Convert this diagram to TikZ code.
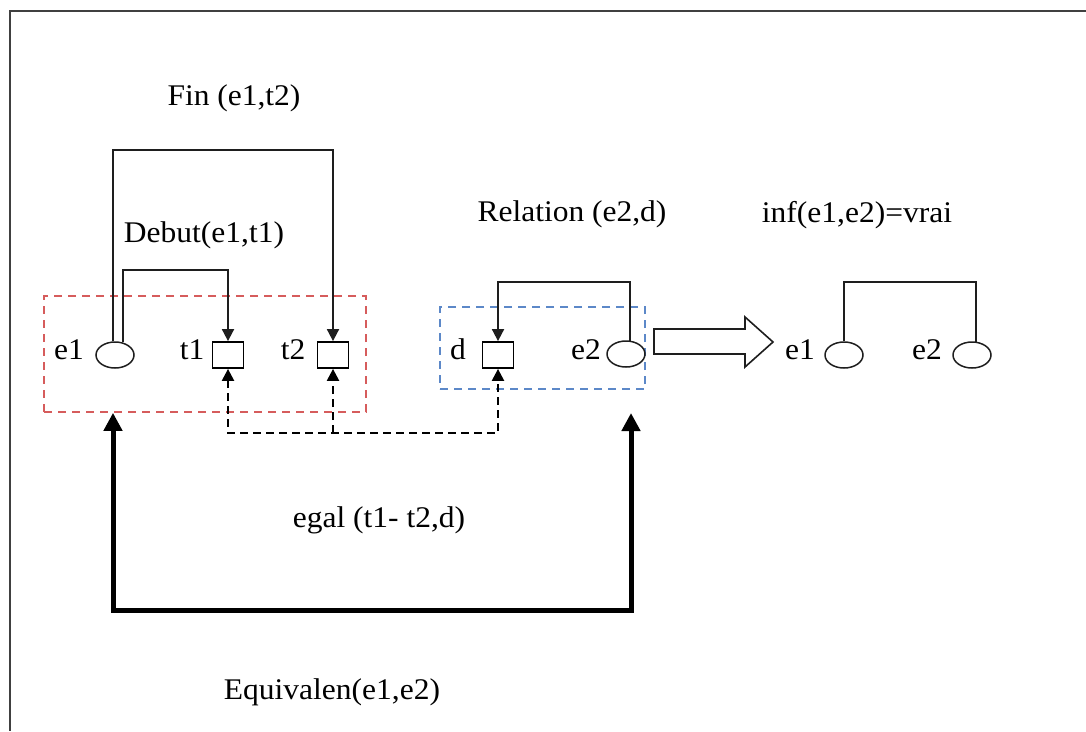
\documentclass[tikz,border=0pt]{standalone}
\usepackage{fontspec}
\setmainfont[FakeStretch=1.05]{Liberation Serif}
\usetikzlibrary{arrows.meta,shapes.geometric}
\definecolor{framec}{RGB}{64,64,64}
\definecolor{linec}{RGB}{30,30,30}
\definecolor{redd}{RGB}{214,92,92}
\definecolor{blued}{RGB}{92,136,200}
\tikzset{
  txt/.style={font=\fontsize{30}{34}\selectfont, inner sep=0pt, anchor=base},
  ent/.style={draw=linec, line width=1.5pt, ellipse, minimum width=38pt, minimum height=26pt, inner sep=0pt},
  attr/.style={draw=black, line width=1.8pt, rectangle, minimum width=31pt, minimum height=26pt, inner sep=0pt},
  conn/.style={draw=linec, line width=1.8pt, -{Triangle[width=12pt,length=12pt]}},
  plain/.style={draw=linec, line width=1.8pt},
  dconn/.style={draw=black, line width=2.3pt, dash pattern=on 8pt off 5pt},
  thickarr/.style={draw=black, line width=5pt, {Triangle[width=18pt,length=18pt]}-{Triangle[width=18pt,length=18pt]}},
  redbox/.style={draw=redd, line width=1.7pt, dash pattern=on 8pt off 6pt, rectangle, inner sep=0pt},
  bluebox/.style={draw=blued, line width=1.7pt, dash pattern=on 8pt off 6pt, rectangle, inner sep=0pt},
}
\begin{document}
\begin{tikzpicture}[x=1pt,y=-1pt]
\useasboundingbox (0,0) rectangle (1086,731);
% frame
\draw[framec, line width=2.5pt] (1086,11) -- (10,11) -- (10,731);

% group boxes
\node[redbox, minimum width=322pt, minimum height=116pt] (redg) at (205,354) {};
\node[bluebox, minimum width=205pt, minimum height=82pt] (blueg) at (542.5,348) {};

% entities and attributes
\node[ent] (e1ell) at (115,355) {};
\node[attr] (t1box) at (228,355) {};
\node[attr] (t2box) at (333,355) {};
\node[attr] (dbox) at (498,355) {};
\node[ent] (e2ell) at (626,354) {};
\node[ent] (re1ell) at (844,355) {};
\node[ent] (re2ell) at (972,355) {};

% labels
\node[txt] (le1) at (69,359) {e1};
\node[txt] (lt1) at (192,359) {t1};
\node[txt] (lt2) at (293,359) {t2};
\node[txt] (ld) at (458,359) {d};
\node[txt] (le2) at (586,359) {e2};
\node[txt] (lre1) at (800,359) {e1};
\node[txt] (lre2) at (927,359) {e2};

% titles
\node[txt] (fin) at (234,105) {Fin (e1,t2)};
\node[txt] (debut) at (204,242) {Debut(e1,t1)};
\node[txt] (rel) at (572,221) {Relation (e2,d)};
\node[txt] (inf) at (857,222) {inf(e1,e2)=vrai};
\node[txt] (egal) at (379,527) {egal (t1- t2,d)};
\node[txt] (equiv) at (332,699) {Equivalen(e1,e2)};

% corner coordinates
\coordinate (finc) at (333,150);
\coordinate (debc) at (228,270);
\coordinate (relc) at (498,282);
\coordinate (infc) at (976,282);
\coordinate (dl) at (228,433);
\coordinate (dr) at (498,433);
\coordinate (bl) at (113,610);
\coordinate (br) at (631,610);
\coordinate (rtip) at (631,413);

% Fin and Debut
\draw[conn] ([xshift=-2pt]e1ell.north) |- (finc) -- (t2box.north);
\draw[conn] ([shift={(8pt,-1.2pt)}]e1ell.north) |- (debc) -- (t1box.north);
% Relation
\draw[conn] ([shift={(4pt,-0.4pt)}]e2ell.north) |- (relc) -- (dbox.north);
% inf
\draw[plain] (re1ell.north) |- (infc) -- ([shift={(4pt,-0.4pt)}]re2ell.north);

% dashed egal
\draw[dconn, {Triangle[width=12pt,length=12pt]}-{Triangle[width=12pt,length=12pt]}] (t1box.south) -- (dl) -- (dr) -- (dbox.south);
\draw[dconn, -{Triangle[width=12pt,length=12pt]}] (t2box.south |- dl) -- (t2box.south);

% thick Equivalen
\draw[thickarr] (redg.south -| bl) -- (bl) -- (br) -- (rtip);

% hollow implication arrow
\coordinate (ha1) at (654,329);
\coordinate (ha2) at (745,329);
\coordinate (ha3) at (745,317);
\coordinate (ha4) at (773,342);
\coordinate (ha5) at (745,367);
\coordinate (ha6) at (745,354);
\coordinate (ha7) at (654,354);
\draw[linec, line width=1.6pt, line join=miter] (ha1) -- (ha2) -- (ha3) -- (ha4) -- (ha5) -- (ha6) -- (ha7) -- cycle;
\end{tikzpicture}
\end{document}
